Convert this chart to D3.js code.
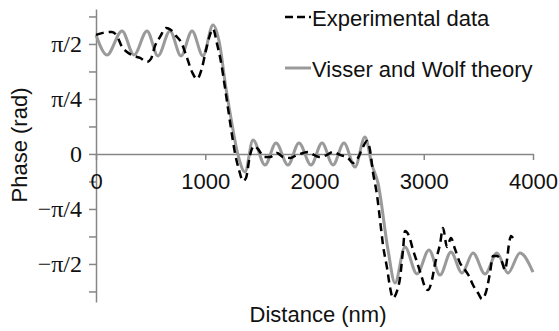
<!DOCTYPE html>
<html>
<head>
  <style>
    body { margin: 0; background: #fff; }
    svg { display: block; }
    .axis path, .axis line { stroke: #868686; stroke-width: 1.5px; }
    .xaxis text { font-family: "Liberation Sans", Arial, sans-serif; font-size: 22px; fill: #111; }
    .yaxis text { font-family: "Liberation Serif", "Times New Roman", serif; font-size: 24px; fill: #111; }
    .lbl { font-family: "Liberation Sans", Arial, sans-serif; font-size: 22px; fill: #111; }
  </style>
</head>
<body>
  <svg id="chart" width="559" height="331"></svg>
  <script src="https://d3js.org/d3.v7.min.js"></script>
  <script>
    // theory curve (Visser and Wolf), distance in nm, phase in rad
    const theoryX = [0, 101, 238, 348, 467, 567, 677, 778, 879, 979, 1071, 1135, 1181, 1236, 1300,
      1364, 1437, 1547, 1648, 1757, 1858, 1968, 2069, 2169, 2270, 2371, 2462, 2526, 2581, 2673, 2737,
      2828, 2938, 3048, 3149, 3249, 3350, 3451, 3561, 3670, 3771, 3881, 4000];
    const theoryY = [1.70, 1.414, 1.757, 1.414, 1.757, 1.40, 1.757, 1.40, 1.757, 1.40, 1.843, 1.543, 1.029, 0.507, -0.014,
      -0.257, 0.2, -0.157, 0.157, -0.157, 0.157, -0.157, 0.157, -0.157, 0.157, -0.186, 0.243, -0.157, -0.414, -1.371, -1.843,
      -1.329, -1.714, -1.371, -1.729, -1.4, -1.7, -1.414, -1.714, -1.414, -1.7, -1.414, -1.686];

    // experimental data
    const expX = [0, 64, 146, 192, 238, 284, 348, 403, 467, 503, 540, 586, 641, 686, 732, 778, 824, 879, 924, 970,
      1007, 1043, 1071, 1108, 1144, 1181, 1208, 1245, 1272, 1309, 1346, 1373, 1410, 1446, 1483, 1538, 1593, 1657,
      1712, 1776, 1840, 1895, 1940, 1995, 2050, 2114, 2169, 2233, 2307, 2352, 2398, 2444, 2480, 2508, 2535, 2572,
      2600, 2627, 2664, 2691, 2718, 2755, 2783, 2810, 2828, 2865, 2902, 2947, 2984, 3011, 3039, 3075, 3103, 3149,
      3176, 3213, 3249, 3286, 3332, 3378, 3414, 3451, 3497, 3533, 3570, 3606, 3634, 3670, 3716, 3744, 3762, 3780,
      3799, 3817];
    const expY = [1.700, 1.729, 1.743, 1.686, 1.529, 1.457, 1.400, 1.371, 1.314, 1.357, 1.543, 1.671, 1.800, 1.771,
      1.686, 1.600, 1.414, 1.171, 1.071, 1.229, 1.486, 1.700, 1.786, 1.571, 1.314, 0.943, 0.657, 0.271, 0.014,
      -0.229, -0.386, -0.343, -0.014, 0.114, 0.071, -0.043, -0.043, 0.014, -0.043, -0.057, -0.014, 0.014, 0.029,
      -0.014, -0.043, -0.014, 0.029, -0.014, -0.057, -0.129, -0.057, 0.1, 0.186, 0.057, -0.257, -0.586, -0.943,
      -1.3, -1.629, -1.9, -2.057, -1.957, -1.771, -1.371, -1.1, -1.171, -1.371, -1.586, -1.771, -1.9, -1.943,
      -1.8, -1.571, -1.286, -1.057, -1.329, -1.2, -1.357, -1.557, -1.657, -1.743, -1.871, -1.986, -2.071, -1.971,
      -1.7, -1.457, -1.457, -1.543, -1.657, -1.514, -1.286, -1.171, -1.2];

    const xTicks = [0, 1000, 2000, 3000, 4000];
    const yTicks = [Math.PI / 2, Math.PI / 4, 0, -Math.PI / 4, -Math.PI / 2];
    const yTickLabels = ["\u03c0/2", "\u03c0/4", "0", "\u2212\u03c0/4", "\u2212\u03c0/2"];
    const yMinor = [5, 3, 1, -1, -3, -5].map(k => k * Math.PI / 8);
    const seriesNames = ["Experimental data", "Visser and Wolf theory"];

    const svg = d3.select("#chart");
    const x = d3.scaleLinear().domain([0, 4000]).range([96, 533]);
    const y = d3.scaleLinear().domain([-2.114, 2.07]).range([302, 9]);

    // y axis
    svg.append("g")
      .attr("class", "axis yaxis")
      .attr("transform", "translate(96,0)")
      .call(d3.axisLeft(y).tickValues(yTicks).tickSize(7).tickSizeOuter(0).tickPadding(7)
        .tickFormat((d, i) => yTickLabels[i]));
    svg.append("g")
      .attr("class", "axis")
      .attr("transform", "translate(96,0)")
      .call(d3.axisLeft(y).tickValues(yMinor).tickSize(7).tickFormat(""))
      .select(".domain").remove();

    // x axis through zero
    svg.append("g")
      .attr("class", "axis xaxis")
      .attr("transform", `translate(0,${y(0)})`)
      .call(d3.axisBottom(x).tickValues(xTicks).tickSize(6).tickSizeOuter(0).tickPadding(13)
        .tickFormat(d3.format("d")));

    const theory = theoryX.map((d, i) => [d, theoryY[i]]);
    const exp = expX.map((d, i) => [d, expY[i]]);
    const line = d3.line().x(d => x(d[0])).y(d => y(d[1])).curve(d3.curveMonotoneX);

    svg.append("path").datum(theory)
      .attr("d", line).attr("fill", "none")
      .attr("stroke", "#9a9a9a").attr("stroke-width", 3);
    svg.append("path").datum(exp)
      .attr("d", line).attr("fill", "none")
      .attr("stroke", "#000").attr("stroke-width", 2.5)
      .attr("stroke-dasharray", "8,5");

    // legend
    const leg = svg.append("g");
    leg.append("line").attr("x1", 285).attr("x2", 311).attr("y1", 17).attr("y2", 17)
      .attr("stroke", "#000").attr("stroke-width", 2.5).attr("stroke-dasharray", "8,4");
    leg.append("text").attr("class", "lbl").attr("x", 312).attr("y", 26).text(seriesNames[0]);
    leg.append("line").attr("x1", 285).attr("x2", 311).attr("y1", 68).attr("y2", 68)
      .attr("stroke", "#9a9a9a").attr("stroke-width", 3);
    leg.append("text").attr("class", "lbl").attr("x", 312).attr("y", 77).text(seriesNames[1]);

    // axis titles
    svg.append("text").attr("class", "lbl")
      .attr("x", 318).attr("y", 322).attr("text-anchor", "middle")
      .text("Distance (nm)");
    svg.append("text").attr("class", "lbl")
      .attr("transform", "translate(27,145) rotate(-90)")
      .attr("text-anchor", "middle")
      .text("Phase (rad)");
  </script>
</body>
</html>
